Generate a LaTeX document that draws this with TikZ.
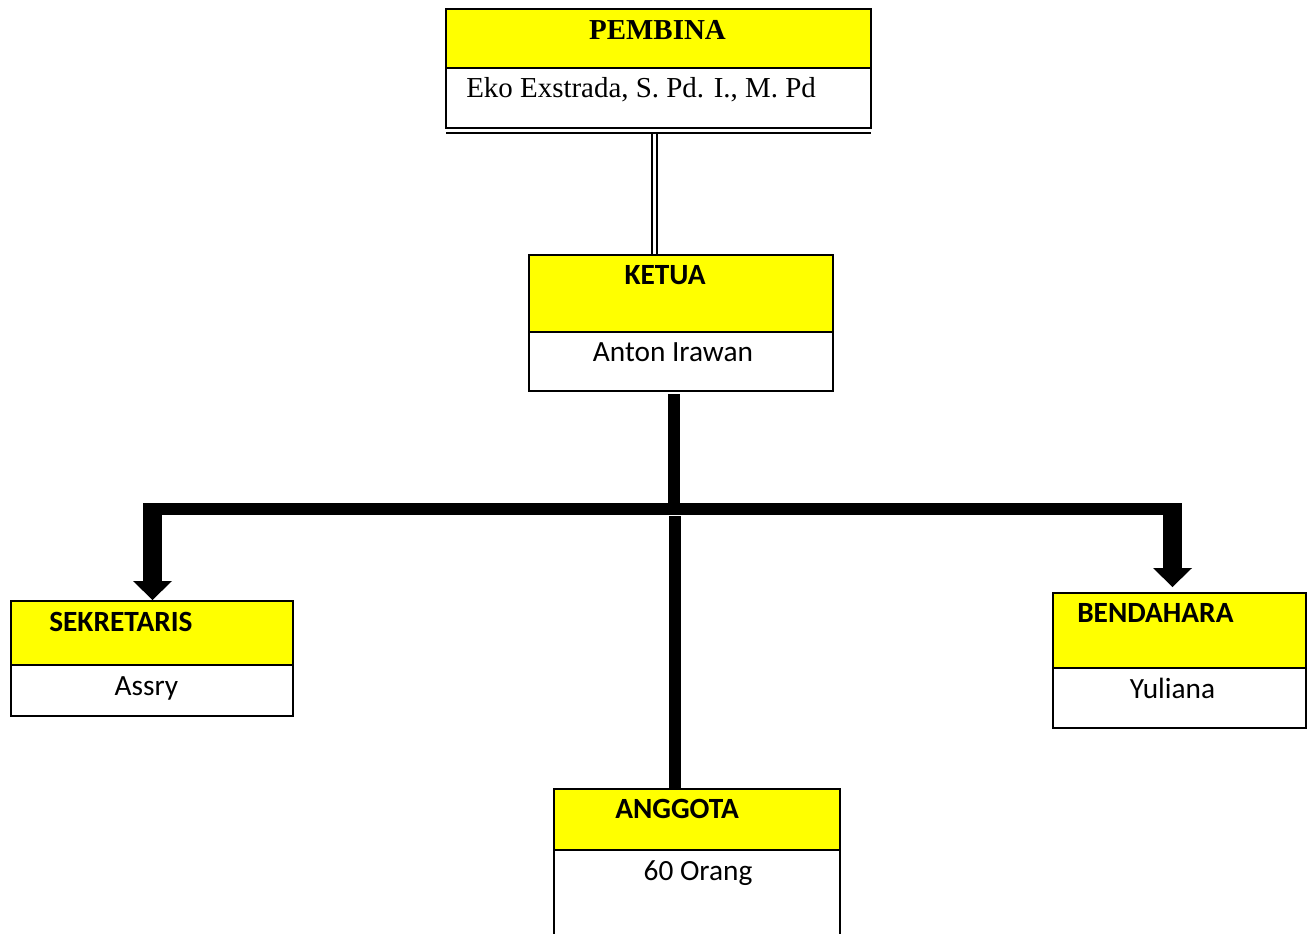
\documentclass[tikz,border=0pt]{standalone}
\usepackage{fontspec}
\setmainfont{Carlito}
\newfontfamily\tnr{Liberation Serif}
\usetikzlibrary{fit,arrows.meta}
\definecolor{hdryellow}{RGB}{255,255,0}
\newcommand\orgbox[6]{%
  \coordinate (#1a) at (#2,#3);
  \coordinate (#1b) at (#4,#5);
  \coordinate (#1c) at (#2,#5);
  \coordinate (#1d) at (#4,#6);
  \node[hdr, fit=(#1a)(#1b)] (#1H) {};
  \node[bdy, fit=(#1c)(#1d)] (#1B) {};}
\begin{document}
\begin{tikzpicture}[x=0.75pt,y=-0.75pt,
  hdr/.style={draw=black, fill=hdryellow, line width=1.5pt, inner sep=0pt},
  bdy/.style={draw=black, fill=white, line width=1.5pt, inner sep=0pt},
  bord/.style={draw=black, line width=1.5pt},
  dbl/.style={draw=black, line width=1.6pt, double=white, double distance=2.1pt},
  stem/.style={draw=black, line width=9pt},
  arr/.style={draw=black, line width=14.25pt, -{Triangle[width=29.25pt,length=14.25pt,line width=0pt]}},
  lbl/.style={inner sep=0pt, font=\fontsize{22}{26}\selectfont},
  tlbl/.style={inner sep=0pt, font=\tnr\fontsize{21.7}{26}\selectfont}]
\useasboundingbox (0,0) rectangle (1311,933);
\clip (0,0) rectangle (1311,933);
% boxes
\orgbox{pemb}{446}{9}{871}{68}{128}
\orgbox{ket}{529}{255}{833}{332}{391}
\orgbox{sek}{11}{601}{293}{665}{716}
\orgbox{ben}{1053}{593}{1306}{668}{728}
\orgbox{ang}{554}{789}{840}{850}{950}
\draw[bord] (446,132.5) -- (871,132.5);
% texts
\node[tlbl, anchor=base] (tPemb) at (657.5,39) {\bfseries PEMBINA};
\node[tlbl, anchor=base west] (tEko) at (466,97) {Eko Exstrada, S. Pd. I., M. Pd};
\node[lbl, anchor=base] (tKet) at (665,284) {\bfseries KETUA};
\node[lbl, anchor=base] (tAnton) at (673,361) {Anton Irawan};
\node[lbl, anchor=base west] (tSek) at (49,631) {\bfseries SEKRETARIS};
\node[lbl, anchor=base] (tAssry) at (146.5,695) {Assry};
\node[lbl, anchor=base west] (tBen) at (1077,622) {\bfseries BENDAHARA};
\node[lbl, anchor=base] (tYul) at (1172.5,698) {Yuliana};
\node[lbl, anchor=base west] (tAng) at (615,818) {\bfseries ANGGOTA};
\node[lbl, anchor=base] (tOrang) at (698,880) {60 Orang};
% connectors
\coordinate (d1) at (654.2,133.5);
\draw[dbl] (d1) -- (d1 |- ketH.north);
\coordinate (k1) at (674,394);
\coordinate (j) at (674,509);
\draw[stem] (k1) -- (j);
\coordinate (bl) at (143,509);
\coordinate (br) at (1182,509);
\draw[stem] (bl) -- (br);
\coordinate (sl) at (152.5,503);
\draw[arr] (sl) -- (sl |- sekH.north);
\coordinate (sr) at (1172.5,503);
\coordinate (srE) at (1172.5,587);
\draw[arr] (sr) -- (srE);
\coordinate (m1) at (675,516);
\draw[stem] (m1) -- (m1 |- angH.north);
\end{tikzpicture}
\end{document}
